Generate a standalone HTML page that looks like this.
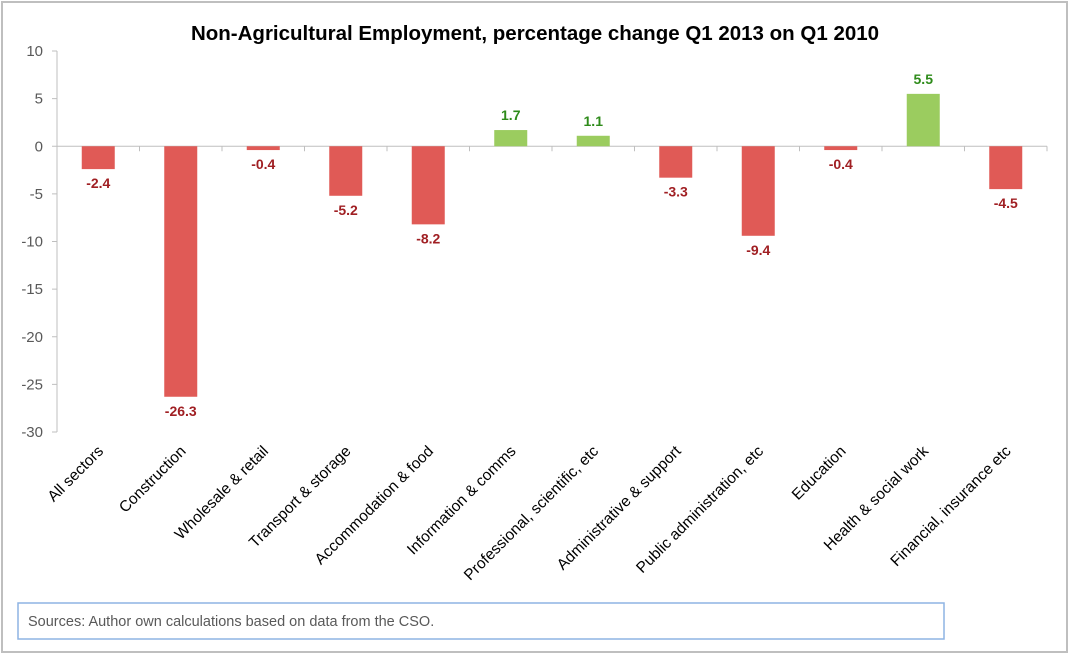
<!DOCTYPE html>
<html><head><meta charset="utf-8"><style>
body{margin:0;background:#fff;}
svg{display:block;font-family:"Liberation Sans",sans-serif;}
</style></head><body>
<svg id="chart" width="1070" height="656">
<rect x="2" y="2" width="1065" height="650" fill="#fff" stroke="#bfbfbf" stroke-width="2"/>
<text x="535" y="40" text-anchor="middle" font-size="20.5" font-weight="bold" fill="#000">Non-Agricultural Employment, percentage change Q1 2013 on Q1 2010</text>
<g id="axes"></g>
<g id="bars"></g>
<rect x="18" y="603" width="926" height="36" fill="#fff" stroke="#8eb4e3" stroke-width="1.5"/>
<text x="28" y="626" font-size="14.5" fill="#595959">Sources: Author own calculations based on data from the CSO.</text>
</svg>
<script>
const categories=["All sectors","Construction","Wholesale & retail","Transport & storage","Accommodation & food","Information & comms","Professional, scientific, etc","Administrative & support","Public administration, etc","Education","Health & social work","Financial, insurance etc"];
const values=[-2.4,-26.3,-0.4,-5.2,-8.2,1.7,1.1,-3.3,-9.4,-0.4,5.5,-4.5];
const yTicks=[10,5,0,-5,-10,-15,-20,-25,-30];
const NS="http://www.w3.org/2000/svg";
const x0=57,x1=1047,yTop=51,yBot=432,vMax=10,vMin=-30;
const bandW=(x1-x0)/categories.length;
function y(v){return yTop+(vMax-v)/(vMax-vMin)*(yBot-yTop);}
function xc(i){return x0+bandW*(i+0.5);}
function mk(tag,attrs,parent){const e=document.createElementNS(NS,tag);for(const k in attrs)e.setAttribute(k,attrs[k]);parent.appendChild(e);return e;}
const axes=document.getElementById('axes'),bars=document.getElementById('bars');
let yl=mk('line',{x1:x0,y1:yTop,x2:x0,y2:yBot,stroke:'#bfbfbf','stroke-width':1},axes);


yTicks.forEach(t=>{
  const tk=mk('line',{x1:x0-5,y1:y(t),x2:x0,y2:y(t),stroke:'#bfbfbf'},axes);
  
  
  const tx=mk('text',{x:43,y:y(t)+5,'text-anchor':'end','font-size':15,fill:'#595959'},axes);
  tx.textContent=t;
  
  
});
categories.forEach((c,i)=>{
  const v=values[i],cx=xc(i),bw=33;
  const top=Math.min(y(v),y(0)),h=Math.abs(y(v)-y(0));
  const r=mk('rect',{x:cx-bw/2,y:top,width:bw,height:h,fill:v>=0?'#9bcc5f':'#e05a56'},bars);
  
  
  const lbl=mk('text',{x:cx,y:v>=0?y(v)-10:y(v)+19,'text-anchor':'middle','font-size':14,'font-weight':'bold',fill:v>=0?'#2e8b1a':'#a01f23'},bars);
  lbl.textContent=v.toFixed(1);
  
  
  const cl=mk('text',{x:0,y:0,'text-anchor':'end','font-size':15.5,fill:'#000',transform:`translate(${cx+6},${452}) rotate(-45)`},axes);
  cl.textContent=c;
  
  
  const tk=mk('line',{x1:x0+bandW*(i+1),y1:y(0),x2:x0+bandW*(i+1),y2:y(0)+5,stroke:'#bfbfbf'},axes);
  
  
});
const xl=mk('line',{x1:x0,y1:y(0),x2:x1,y2:y(0),stroke:'#bfbfbf','stroke-width':1},axes);


</script>
</body></html>
